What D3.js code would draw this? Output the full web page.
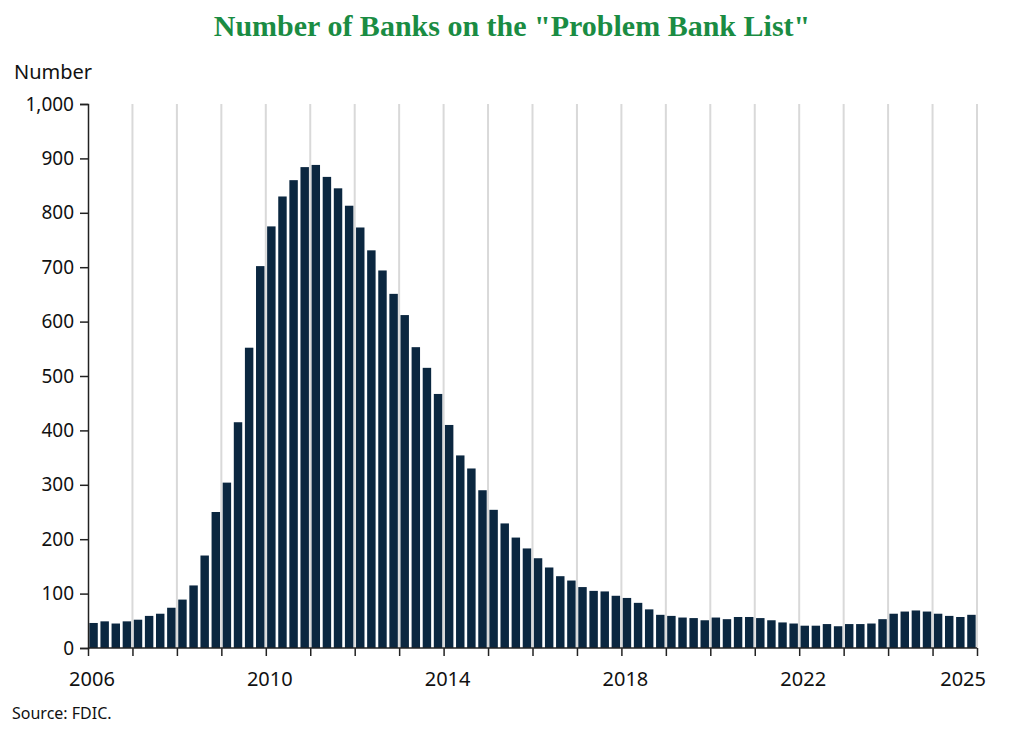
<!DOCTYPE html>
<html>
<head>
<meta charset="utf-8">
<script src="https://cdn.jsdelivr.net/npm/d3@7"></script>
<style>
  body { margin: 0; background: #fff; }
  text { font-family: "Noto Sans", sans-serif; }
</style>
</head>
<body>
<svg width="1024" height="744"></svg>
<script>
// quarterly counts, 2006Q1 .. 2025Q4
var YEARS = d3.range(2006, 2026);
var QUARTER_VALUES = [
  46, 49, 45, 49,   52, 59, 63, 74,   89, 115, 170, 250,   304, 415, 552, 702,
  775, 830, 860, 884,   888, 866, 845, 813,   773, 731, 694, 651,   612, 553, 515, 467,
  410, 354, 330, 290,   254, 229, 203, 183,   165, 148, 132, 124,   112, 105, 104, 96,
  92, 83, 71, 61,   59, 56, 55, 51,   56, 53, 57, 57,   55, 51, 47, 45,
  41, 41, 44, 40,   44, 44, 45, 53,   63, 67, 69, 67,   63, 59, 57, 61
];
var YEAR_LABELS = ["2006", "2010", "2014", "2018", "2022", "2025"];
var Y_TICKS = [0, 100, 200, 300, 400, 500, 600, 700, 800, 900, 1000];

var quarters = [];
YEARS.forEach(function(yr) {
  for (var q = 1; q <= 4; q++) quarters.push(yr + "Q" + q);
});
var data = quarters.map(function(k, i) { return { key: k, value: QUARTER_VALUES[i] }; });

var svg = d3.select("svg");
var plotLeft = 88, plotRight = 977, plotTop = 104, plotBottom = 648;

var x = d3.scaleBand().domain(quarters).range([plotLeft, plotRight]).paddingInner(0.24).paddingOuter(0.12);
var y = d3.scaleLinear().domain([0, 1000]).range([plotBottom, plotTop]);
var step = x.step();
function yearStart(yr) { return plotLeft + (yr - 2006) * 4 * step; }

// title
svg.append("text")
  .attr("x", 512).attr("y", 36)
  .attr("text-anchor", "middle")
  .style("font-family", "'Liberation Serif', 'DejaVu Serif', serif")
  .style("font-weight", "bold")
  .style("font-size", "30px")
  .attr("fill", "#1a8c43")
  .text('Number of Banks on the "Problem Bank List"');

svg.append("text").attr("x", 14).attr("y", 79)
  .style("font-size", "20px").attr("fill", "#111").text("Number");

// vertical year gridlines
svg.append("g").selectAll("line")
  .data(d3.range(2007, 2027))
  .join("line")
  .attr("x1", yearStart).attr("x2", yearStart)
  .attr("y1", plotTop).attr("y2", plotBottom)
  .attr("stroke", "#d9d9d9").attr("stroke-width", 2);

// bars
svg.append("g").selectAll("rect")
  .data(data)
  .join("rect")
  .attr("x", function(d) { return x(d.key); })
  .attr("width", x.bandwidth())
  .attr("y", function(d) { return y(d.value); })
  .attr("height", function(d) { return plotBottom - y(d.value); })
  .attr("fill", "#0b2740");

// y axis
var yAxis = svg.append("g")
  .attr("transform", "translate(" + plotLeft + ",0)")
  .call(d3.axisLeft(y).tickValues(Y_TICKS).tickSize(8).tickPadding(6).tickFormat(d3.format(",")));
yAxis.select(".domain").attr("stroke", "#222").attr("stroke-width", 1.5);
yAxis.selectAll(".tick line").attr("stroke", "#222").attr("stroke-width", 1.5);
yAxis.selectAll("text").style("font-size", "19px").attr("fill", "#111");

// x axis baseline and year ticks
var xScale = d3.scaleLinear().domain([2006, 2026]).range([plotLeft, yearStart(2026)]);
var xAxis = svg.append("g")
  .attr("transform", "translate(0," + plotBottom + ")")
  .call(d3.axisBottom(xScale).tickValues(d3.range(2006, 2027)).tickSize(8).tickFormat(""));
xAxis.select(".domain").attr("stroke", "#222").attr("stroke-width", 1.5).attr("d", "M" + plotLeft + ",0H" + yearStart(2026));
xAxis.selectAll(".tick line").attr("stroke", "#222").attr("stroke-width", 1.5);

svg.append("g").selectAll("text")
  .data(YEAR_LABELS)
  .join("text")
  .attr("x", function(d) { return d === "2025" ? 986 : xScale(+d) + 4; })
  .attr("y", 686)
  .attr("text-anchor", function(d) { return d === "2025" ? "end" : "middle"; })
  .style("font-size", "20px").attr("fill", "#111")
  .text(function(d) { return d; });

svg.append("text").attr("x", 12).attr("y", 719)
  .style("font-size", "16px").attr("fill", "#111").text("Source: FDIC.");
</script>
</body>
</html>
